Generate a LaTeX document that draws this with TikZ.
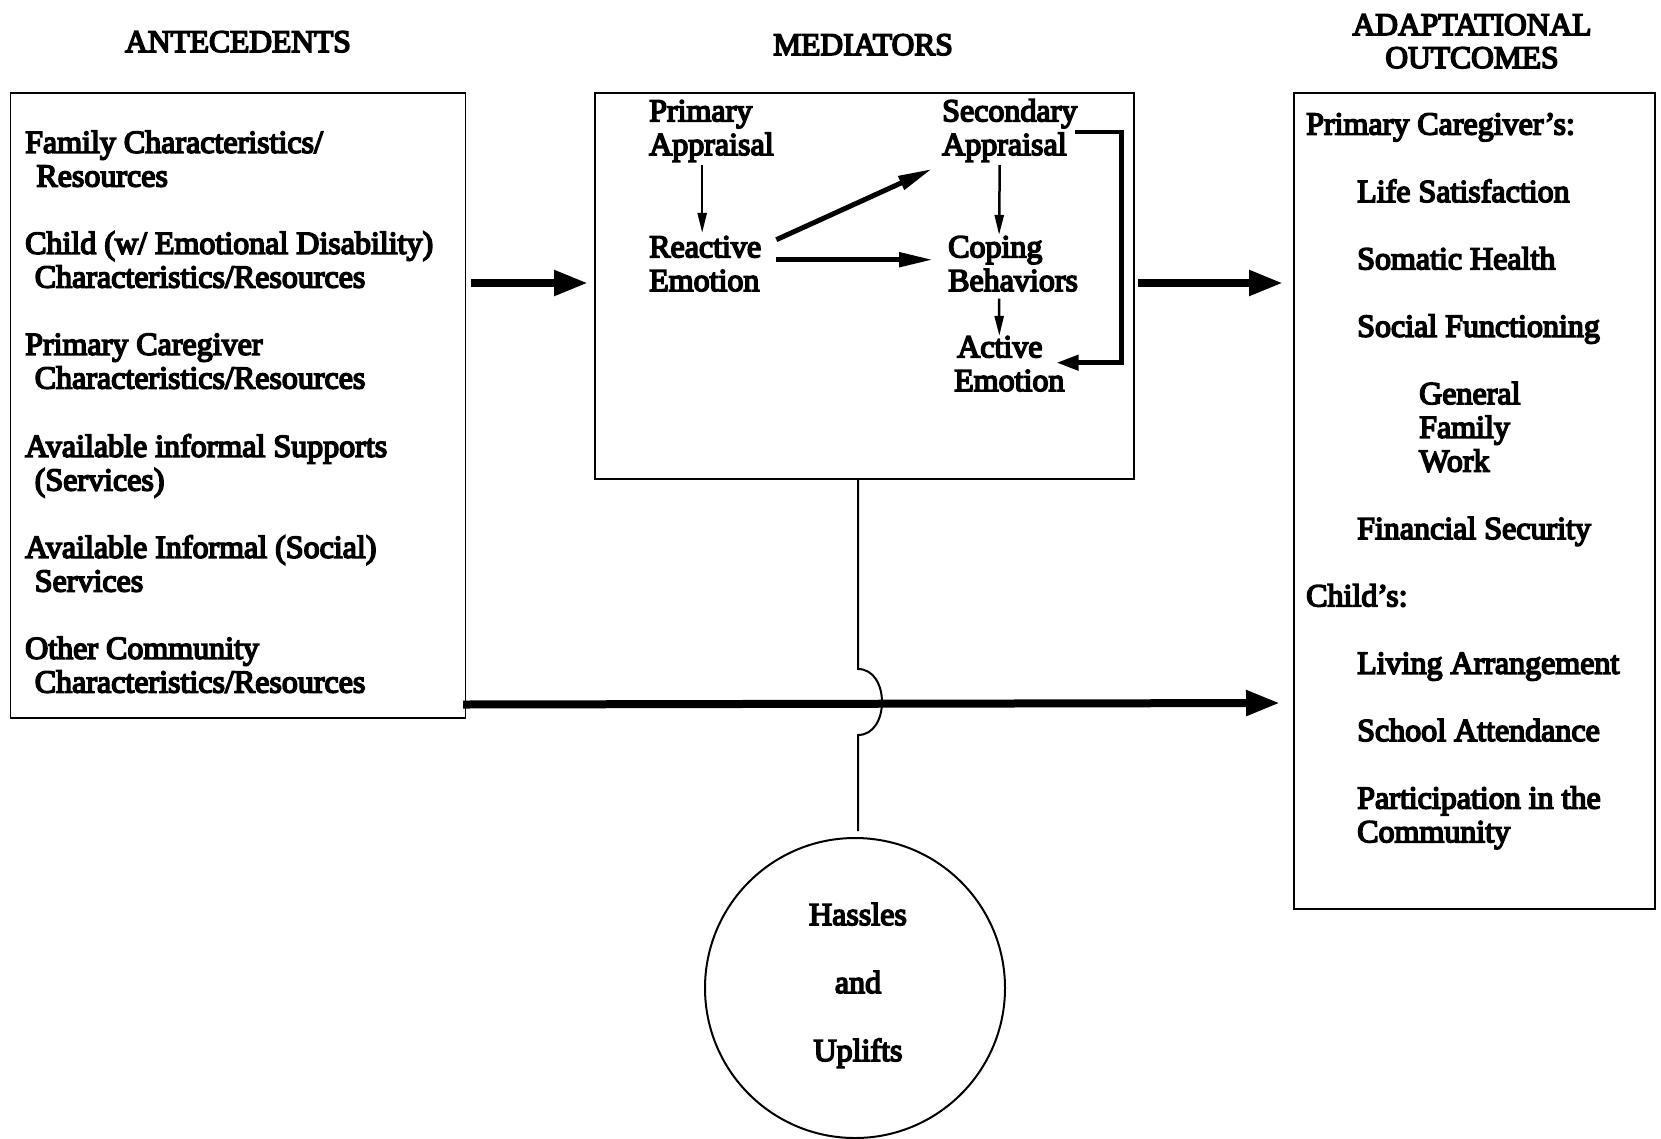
\documentclass[tikz,border=0pt]{standalone}
\usepackage{fontspec}
\setmainfont{Liberation Serif}[FakeBold=5]
\usetikzlibrary{arrows.meta,calc}
\begin{document}
\begin{tikzpicture}[x=1pt,y=-1pt,
  txt/.style={inner sep=0pt, anchor=base west, align=left, font=\fontsize{32}{33.7}\selectfont},
  hdr/.style={inner sep=0pt, anchor=base, align=center, font=\fontsize{31.5}{33}\selectfont},
  ctr/.style={inner sep=0pt, anchor=base, font=\fontsize{32}{33.7}\selectfont},
  frame/.style={draw, line width=1.5pt, inner sep=0pt, anchor=north west},
  big/.style={line width=8pt, -{Triangle[length=34pt,width=24pt]}},
  med/.style={line width=5pt, -{Triangle[length=34pt,width=14pt]}},
  brk/.style={line width=4.5pt, -{Triangle[length=22pt,width=15pt]}},
  thinar/.style={line width=2.5pt, -{Triangle[length=20pt,width=9pt]}},
]
\fill[white] (0,0) rectangle (1661,1138);
\useasboundingbox (0,0) rectangle (1661,1138);

% headers (multi-line nodes: base = last line)
\node[hdr] (hA) at (238,52) {ANTECEDENTS};
\node[hdr] (hM) at (863,55) {MEDIATORS};
\node[hdr] (hO) at (1472,68) {ADAPTATIONAL\\OUTCOMES};

% frames
\node[frame, minimum width=455pt, minimum height=625pt] (ante) at (9.5,92) {};
\node[frame, minimum width=539pt, minimum height=386pt] (mid) at (594,92) {};
\node[frame, minimum width=361pt, minimum height=816pt] (out) at (1293,92) {};
\node[draw, circle, line width=2pt, minimum size=300pt, inner sep=0pt] (hu) at (855,988) {};

% antecedents
\node[txt] (a1) at (25,186.5) {Family Characteristics/\\\hspace*{0.35em}Resources};
\node[txt] (a2) at (25,287.5) {Child (w/ Emotional Disability)\\\hspace*{0.3em}Characteristics/Resources};
\node[txt] (a3) at (25,388.5) {Primary Caregiver\\\hspace*{0.3em}Characteristics/Resources};
\node[txt] (a4) at (25,490.5) {Available informal Supports\\\hspace*{0.3em}(Services)};
\node[txt] (a5) at (25,591.5) {Available Informal (Social)\\\hspace*{0.3em}Services};
\node[txt] (a6) at (25,692.5) {Other Community\\\hspace*{0.3em}Characteristics/Resources};

% mediators
\node[txt] (pa) at (649,155) {Primary\\Appraisal};
\node[txt] (sa) at (942,155) {Secondary\\Appraisal};
\node[txt] (ra) at (649,291) {Reactive\\Emotion};
\node[txt] (cb) at (948,291) {Coping\\Behaviors};
\node[txt] (ae) at (954,391) {\hspace*{3pt}Active\\Emotion};

% outcomes
\node[txt] (o1) at (1306,134.5) {Primary Caregiver's:};
\node[txt] (o2) at (1357,202) {Life Satisfaction};
\node[txt] (o3) at (1357,269.3) {Somatic Health};
\node[txt] (o4) at (1357,336.7) {Social Functioning};
\node[txt] (o5) at (1419,471.5) {General\\Family\\Work};
\node[txt] (o6) at (1357,539) {Financial Security};
\node[txt] (o7) at (1306,606.3) {Child's:};
\node[txt] (o8) at (1357,673.7) {Living Arrangement};
\node[txt] (o9) at (1357,741) {School Attendance};
\node[txt] (o10) at (1357,842.2) {Participation in the\\Community};

% circle text
\node[ctr] (h1) at (858,925) {Hassles};
\node[ctr] (h2) at (858,993) {and};
\node[ctr] (h3) at (858,1061) {Uplifts};

% main arrows
\draw[big] ($(ante.north east)+(5,191)$) -- ($(mid.north west)+(-6,191)$);
\draw[big] ($(mid.north east)+(3,191)$) -- ($(out.north west)+(-10,191)$);
\draw[big] ($(ante.south east)+(-3,-14)$) -- ($(out.north west)+(-13,611)$);

% line to hassles with jump
\coordinate (j1) at (858,669);
\coordinate (j2) at (858,735);
\draw[line width=2pt] (mid.south -| h2.base) -- (j1) .. controls (890,669) and (890,735) .. (j2) -- ($(hu.north -| h2.base)+(0,-6)$);

% mediator arrows
\draw[thinar] ($(pa.south -| ra.north)+(-3,3)$) -- ($(ra.north)+(-3,-3)$);
\draw[thinar] ($(sa.south)+(-10,3)$) -- ($(cb.north)+(-14,-1)$);
\draw[thinar] ($(cb.south)+(-14,7)$) -- ($(ae.north)+(-10,0)$);
\draw[med] ($(ra.east)+(15,-24)$) -- ($(sa.west)+(-10,38.5)$);
\draw[med] ($(ra.east)+(15,-4)$) -- ($(cb.west)+(-15,-4)$);
\draw[brk] ($(sa.east)+(-2,1.5)$) -- ($(sa.east)+(44,1.5)$) |- ($(ae.east)+(-8,-1)$);
\end{tikzpicture}
\end{document}
